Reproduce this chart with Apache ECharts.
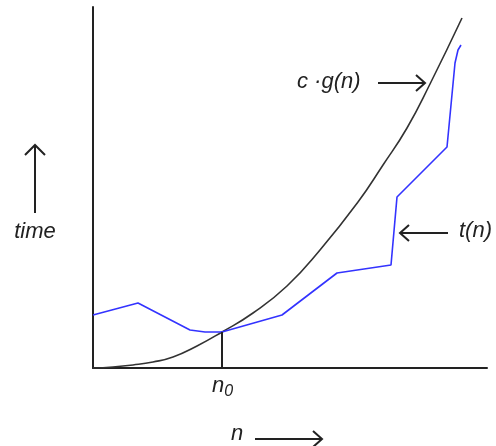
<!DOCTYPE html>
<html>
<head>
    <meta charset="utf-8">
    <title>t(n) und c·g(n)</title>
    <script src="https://cdn.jsdelivr.net/npm/echarts@6/dist/echarts.min.js"></script>
    <style>
        html, body { margin: 0; padding: 0; background: #fff; }
        #main { width: 496px; height: 446px; }
    </style>
</head>
<body>
<div id="main"></div>
<script type="text/javascript">
    // values (x: n, y: time)
    var curveX = [0, 20, 40, 60, 80, 104, 129, 160, 194, 227, 265, 290, 314, 337, 369];
    var curveY = [0, 1, 3, 6, 11, 22, 36, 55, 82, 118, 166, 203, 240, 284, 350];

    var tX = [0, 45, 97, 112, 129, 189, 244, 298, 304, 354, 362, 365, 368];
    var tY = [53, 65, 38, 36, 36, 53, 95, 103, 171, 221, 305, 318, 323];

    var n0X = [129, 129];
    var n0Y = [0, 36];

    function pairs(xs, ys) {
        return xs.map(function (x, i) { return [x, ys[i]]; });
    }

    var FONT = 'italic 22px "Liberation Sans", Arial, sans-serif';
    var INK = '#222';

    function arrow(x1, y1, x2, y2, head) {
        // shaft plus an open chevron head at (x2, y2)
        return [
            { type: 'line', shape: { x1: x1, y1: y1, x2: x2, y2: y2 }, style: { stroke: INK, lineWidth: 2 } },
            { type: 'polyline', shape: { points: head }, style: { stroke: INK, lineWidth: 2, fill: null } }
        ];
    }

    var myChart = echarts.init(document.getElementById('main'));

    myChart.setOption({
        backgroundColor: '#fff',
        animation: false,
        grid: { left: 93, top: 7, right: 9, bottom: 78 },
        xAxis: {
            type: 'value', min: 0, max: 394,
            axisLine: { show: true, onZero: false, lineStyle: { color: INK, width: 2 } },
            axisTick: { show: false }, axisLabel: { show: false }, splitLine: { show: false }
        },
        yAxis: {
            type: 'value', min: 0, max: 361,
            axisLine: { show: true, onZero: false, lineStyle: { color: INK, width: 2 } },
            axisTick: { show: false }, axisLabel: { show: false }, splitLine: { show: false }
        },
        series: [
            {
                name: 'c·g(n)', type: 'line', data: pairs(curveX, curveY),
                smooth: 0.5, showSymbol: false,
                lineStyle: { color: '#333', width: 1.6 }
            },
            {
                name: 't(n)', type: 'line', data: pairs(tX, tY),
                showSymbol: false,
                lineStyle: { color: '#3333ff', width: 1.6 }
            },
            {
                name: 'n0', type: 'line', data: pairs(n0X, n0Y),
                showSymbol: false,
                lineStyle: { color: INK, width: 2 }
            }
        ],
        graphic: [
            { type: 'text', style: { text: 'time', x: 35, y: 232, font: FONT, fill: INK, align: 'center', verticalAlign: 'middle' } },
            { type: 'text', style: { text: 'c ·g(n)', x: 297, y: 82, font: FONT, fill: INK, align: 'left', verticalAlign: 'middle' } },
            { type: 'text', style: { text: 't(n)', x: 459, y: 231, font: FONT, fill: INK, align: 'left', verticalAlign: 'middle' } },
            { type: 'text', style: { text: 'n', x: 231, y: 434, font: FONT, fill: INK, align: 'left', verticalAlign: 'middle' } },
            {
                type: 'text',
                style: {
                    text: '{n|n}{s|0}', x: 212, y: 386, fill: INK, align: 'left', verticalAlign: 'middle',
                    rich: {
                        n: { font: FONT, fill: INK },
                        s: { font: 'italic 16px "Liberation Sans", Arial, sans-serif', fill: INK, padding: [12, 0, 0, 0] }
                    }
                }
            }
        ]
            .concat(arrow(35, 213, 35, 145, [[25, 155], [35, 145], [45, 155]]))
            .concat(arrow(378, 83, 425, 83, [[416, 75], [425, 83], [416, 91]]))
            .concat(arrow(448, 233, 400, 233, [[409, 225], [400, 233], [409, 241]]))
            .concat(arrow(255, 439, 322, 439, [[313, 431], [322, 439], [313, 447]]))
    });
</script>
</body>
</html>
